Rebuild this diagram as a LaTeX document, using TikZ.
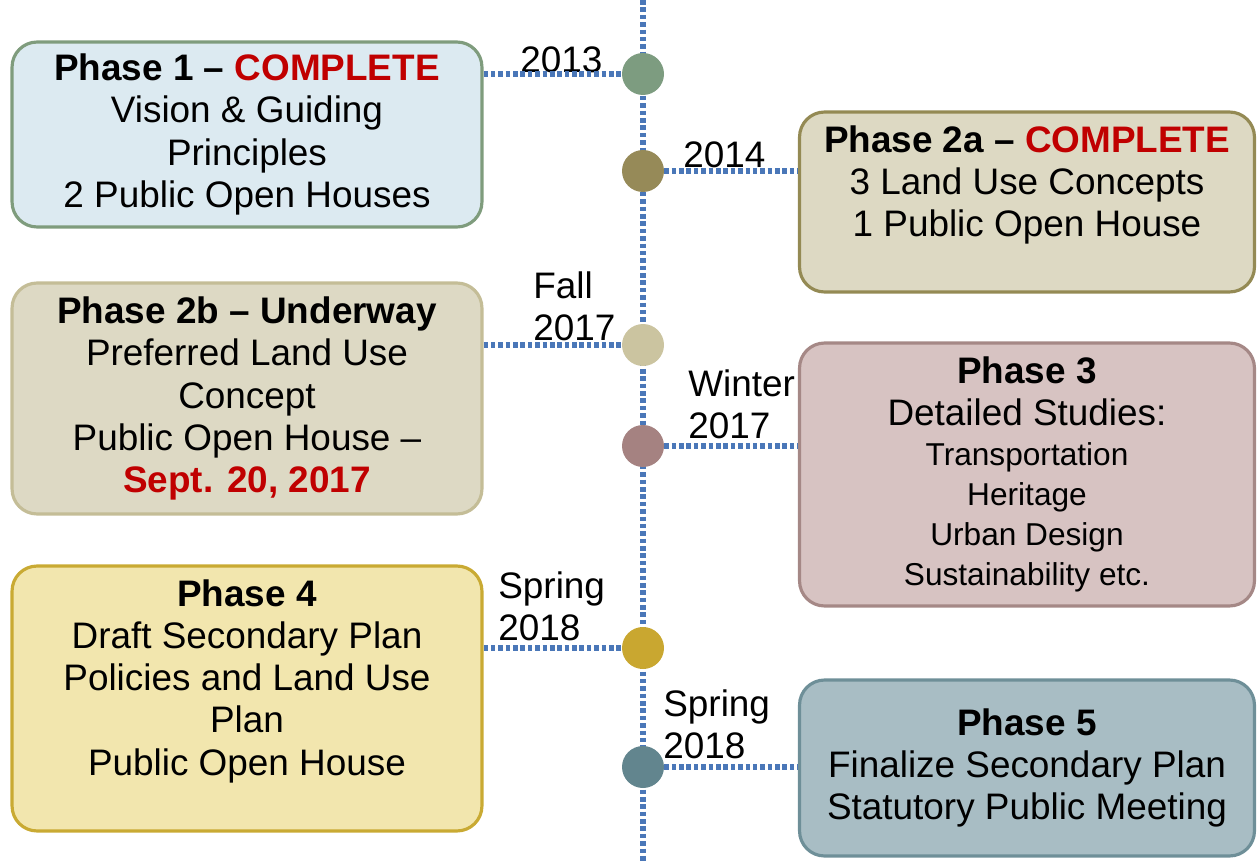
\documentclass[tikz,border=0pt]{standalone}
\usepackage{fontspec}
\setmainfont{Liberation Sans}
\definecolor{onefill}{HTML}{DCEAF1}
\definecolor{oneline}{HTML}{7F9C7D}
\definecolor{twoafill}{HTML}{DDD9C3}
\definecolor{twoaline}{HTML}{948A54}
\definecolor{twobfill}{HTML}{DDD9C4}
\definecolor{twobline}{HTML}{C4BD97}
\definecolor{threefill}{HTML}{D7C3C2}
\definecolor{threeline}{HTML}{A58886}
\definecolor{fourfill}{HTML}{F2E6AE}
\definecolor{fourline}{HTML}{C9AA33}
\definecolor{fivefill}{HTML}{A8BDC4}
\definecolor{fiveline}{HTML}{6E8F98}
\definecolor{dotblue}{HTML}{4A77B8}
\definecolor{doneRed}{HTML}{C00000}
\definecolor{dotA}{HTML}{7D9C80}
\definecolor{dotB}{HTML}{968A58}
\definecolor{dotC}{HTML}{CBC4A0}
\definecolor{dotD}{HTML}{A58281}
\definecolor{dotE}{HTML}{C9A730}
\definecolor{dotF}{HTML}{62858E}
\newcommand{\studyline}[1]{{\fontsize{18}{22.7}\selectfont #1}}
\begin{document}
\begin{tikzpicture}[x=0.02cm,y=-0.02cm,
    phase/.style={draw,rounded corners=0.5cm,line width=1.8pt,align=center,
      font=\fontsize{21}{24}\selectfont,inner sep=0pt},
    milestone/.style={circle,inner sep=0pt,minimum size=0.84cm},
    when/.style={anchor=west,align=left,inner sep=0pt,font=\fontsize{21}{24}\selectfont},
    link/.style={dotblue,line width=3pt,dash pattern=on 2.6pt off 1.6pt}]
  \useasboundingbox (0,0) rectangle (1258,862);
  % timeline
  \coordinate (top) at (643,0);
  \coordinate (bottom) at (643,862);
  \draw[link] (top) -- (bottom);
  % milestones on the timeline
  \node[milestone,fill=dotA] (m1) at (643,74) {};
  \node[milestone,fill=dotB] (m2) at (643,171) {};
  \node[milestone,fill=dotC] (m3) at (643,345) {};
  \node[milestone,fill=dotD] (m4) at (643,446) {};
  \node[milestone,fill=dotE] (m5) at (643,648) {};
  \node[milestone,fill=dotF] (m6) at (643,767) {};
  % phase boxes, left side
  \node[phase,fill=onefill,draw=oneline,minimum width=9.4cm,minimum height=3.7cm] (p1) at (247,134.5)
    {\textbf{Phase 1 -- \textcolor{doneRed}{COMPLETE}}\\ Vision \& Guiding\\ Principles\\ 2 Public Open Houses};
  \node[phase,fill=twobfill,draw=twobline,minimum width=9.4cm,minimum height=4.62cm] (p2b) at (247,398.5)
    {\textbf{Phase 2b -- Underway}\\ Preferred Land Use\\ Concept\\ Public Open House --\\ \textbf{\textcolor{doneRed}{Sept. 20, 2017}}};
  \node[phase,fill=fourfill,draw=fourline,minimum width=9.4cm,minimum height=5.3cm] (p4) at (247,698.5)
    {\textbf{Phase 4}\\ Draft Secondary Plan\\ Policies and Land Use\\ Plan\\ Public Open House\\ \mbox{}};
  % phase boxes, right side
  \node[phase,fill=twoafill,draw=twoaline,minimum width=9.1cm,minimum height=3.6cm] (p2a) at (1027,202)
    {\textbf{Phase 2a -- \textcolor{doneRed}{COMPLETE}}\\ 3 Land Use Concepts\\ 1 Public Open House\\ \mbox{}};
  \node[phase,fill=threefill,draw=threeline,minimum width=9.1cm,minimum height=5.26cm] (p3) at (1027,474.5)
    {\textbf{Phase 3}\\ Detailed Studies:\\[-1.3pt] \studyline{Transportation}\\[-1.3pt] \studyline{Heritage}\\[-1.3pt]
     \studyline{Urban Design}\\[-1.3pt] \studyline{Sustainability etc.}};
  \node[phase,fill=fivefill,draw=fiveline,minimum width=9.1cm,minimum height=3.52cm] (p5) at (1027,768)
    {\textbf{Phase 5}\\ Finalize Secondary Plan\\ Statutory Public Meeting};
  % dates
  \node[when] (d1) at (520,60) {2013};
  \node[when] (d2) at (683,155) {2014};
  \node[when] (d3) at (533,306) {Fall\\ 2017};
  \node[when] (d4) at (688,404) {Winter\\ 2017};
  \node[when] (d5) at (498,606) {Spring\\ 2018};
  \node[when] (d6) at (663,724) {Spring\\ 2018};
  % links from boxes to milestones
  \draw[link] (p1.east |- m1) -- (m1);
  \draw[link] (m2) -- (m2 -| p2a.west);
  \draw[link] (p2b.east |- m3) -- (m3);
  \draw[link] (m4) -- (m4 -| p3.west);
  \draw[link] (p4.east |- m5) -- (m5);
  \draw[link] (m6) -- (m6 -| p5.west);
\end{tikzpicture}
\end{document}
